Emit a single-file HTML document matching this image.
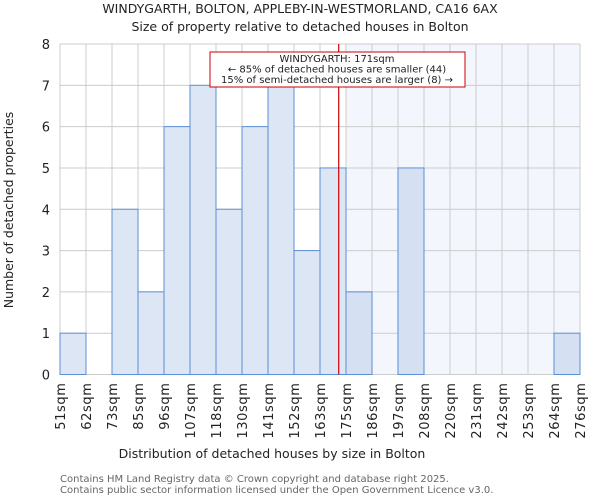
<!DOCTYPE html>
<html><head><meta charset="utf-8"><style>
body{margin:0;background:#fff;font-family:"DejaVu Sans","Liberation Sans",sans-serif;}
svg text{font-family:"DejaVu Sans","Liberation Sans",sans-serif;}
</style></head><body>
<svg id="c" width="600" height="500" xmlns="http://www.w3.org/2000/svg">
<text x="300" y="13" font-size="12.5" text-anchor="middle" fill="#222">WINDYGARTH, BOLTON, APPLEBY-IN-WESTMORLAND, CA16 6AX</text>
<text x="300" y="31" font-size="12.5" text-anchor="middle" fill="#222">Size of property relative to detached houses in Bolton</text>
<g id="plot"></g>
<text x="272" y="458" font-size="12.5" text-anchor="middle" fill="#222">Distribution of detached houses by size in Bolton</text>
<text transform="translate(13,210) rotate(-90)" font-size="12.5" text-anchor="middle" fill="#222">Number of detached properties</text>
<text x="60" y="482" font-size="10" fill="#666">Contains HM Land Registry data © Crown copyright and database right 2025.</text>
<text x="60" y="493" font-size="10" fill="#666">Contains public sector information licensed under the Open Government Licence v3.0.</text>
</svg>
<script>
const binLabels=["51sqm","62sqm","73sqm","85sqm","96sqm","107sqm","118sqm","130sqm","141sqm","152sqm","163sqm","175sqm","186sqm","197sqm","208sqm","220sqm","231sqm","242sqm","253sqm","264sqm","276sqm"];
const counts=[1,0,4,2,6,7,4,6,7,3,5,2,0,5,0,0,0,0,0,1];
const yTicks=[0,1,2,3,4,5,6,7,8];
const markerBin=10.72;
const shadeFromBin=11;
const L=60,R=580,T=44,B=374.5,yMax=8;
const nb=counts.length;
const x=i=>L+(R-L)*i/nb;
const y=v=>B-(B-T)*v/yMax;
const ns="http://www.w3.org/2000/svg";
const g=document.getElementById('plot');
function mk(t,a){const e=document.createElementNS(ns,t);for(const k in a)e.setAttribute(k,a[k]);g.appendChild(e);return e;}
let s=mk('rect',{x:x(shadeFromBin),y:T,width:R-x(shadeFromBin),height:B-T,fill:'#f3f6fc'});


for(let i=0;i<=nb;i++){let l=mk('line',{x1:x(i),x2:x(i),y1:T,y2:B,stroke:'#ccc','stroke-width':1});

}
yTicks.forEach(v=>{let l=mk('line',{x1:L,x2:R,y1:y(v),y2:y(v),stroke:'#ccc','stroke-width':1});


let t=mk('text',{x:L-10,y:y(v)+5,'font-size':13,'text-anchor':'end',fill:'#222'});t.textContent=v;

});
counts.forEach((c,i)=>{if(c<=0)return;let r=mk('rect',{x:x(i),y:y(c),width:x(i+1)-x(i),height:B-y(c),fill:i>=shadeFromBin?'#d5e1f2':'#dce6f4',stroke:'#5b8fd6','stroke-width':1});

});
binLabels.forEach((lb,i)=>{let t=mk('text',{transform:`translate(${x(i)+5},${B+8}) rotate(-90)`,'font-size':13,'letter-spacing':'0.6','text-anchor':'end',fill:'#222'});t.textContent=lb;

});
let rl=mk('line',{x1:x(markerBin),x2:x(markerBin),y1:T,y2:B,stroke:'#cc0000','stroke-width':1.2});


let box=mk('rect',{x:210,y:52,width:255,height:35,fill:'#fff',stroke:'#cc0000','stroke-width':1});


["WINDYGARTH: 171sqm","← 85% of detached houses are smaller (44)","15% of semi-detached houses are larger (8) →"].forEach((s,i)=>{let t=mk('text',{x:337,y:62+i*10.5,'font-size':10,'text-anchor':'middle',fill:'#222'});t.textContent=s;

});
</script>
</body></html>
